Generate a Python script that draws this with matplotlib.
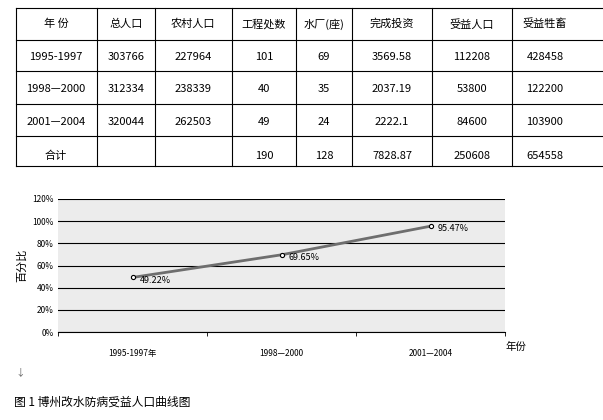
import matplotlib
matplotlib.use("Agg")
import matplotlib.pyplot as plt
from matplotlib.lines import Line2D

plt.rcParams["font.family"] = ["Noto Sans CJK SC", "DejaVu Sans"]

# table data
headers = ["年 份", "总人口", "农村人口", "工程处数", "水厂(座)", "完成投资", "受益人口", "受益牲畜"]
row_1995 = ["1995-1997", "303766", "227964", "101", "69", "3569.58", "112208", "428458"]
row_1998 = ["1998—2000", "312334", "238339", "40", "35", "2037.19", "53800", "122200"]
row_2001 = ["2001—2004", "320044", "262503", "49", "24", "2222.1", "84600", "103900"]
row_total = ["合计", "", "", "190", "128", "7828.87", "250608", "654558"]

# chart data
periods = ["1995-1997年", "1998—2000", "2001—2004"]
ratios = [49.22, 69.65, 95.47]
yticks = [0, 20, 40, 60, 80, 100, 120]

W, H = 603, 420
fig = plt.figure(figsize=(W / 100, H / 100), dpi=100)
bg = fig.add_axes([0, 0, 1, 1])
bg.set_xlim(0, W)
bg.set_ylim(H, 0)
bg.axis("off")

# table grid (pixel coords)
col_x = [16, 97, 155, 232, 296, 352, 432, 512, 603]
text_x = [56, 126, 193, 264, 324, 392, 472, 545]
row_y = [8, 40, 71, 104, 136, 166]
for y in row_y:
    bg.add_line(Line2D([col_x[0], col_x[-1]], [y, y], color="black", lw=0.8))
for x in col_x[:-1]:
    bg.add_line(Line2D([x, x], [row_y[0], row_y[-1]], color="black", lw=0.8))

rows = [headers, row_1995, row_1998, row_2001, row_total]
for r, row in enumerate(rows):
    yc = (row_y[r] + row_y[r + 1]) / 2 + (2 if r in (1, 2, 3) else 0)
    if r == 4:
        yc += 5
    for c, txt in enumerate(row):
        bg.text(text_x[c], yc, txt, ha="center", va="center", fontsize=8)

# line chart
ax = fig.add_axes([58 / W, 1 - 332 / H, (505 - 58) / W, (332 - 199) / H])
ax.set_facecolor("#ececec")
xs = range(len(periods))
ax.plot(xs, ratios, color="#6e6e6e", lw=2, zorder=3)
ax.plot(xs, ratios, "o", ms=3, mfc="white", mec="black", mew=0.8, zorder=4)
for x, v in zip(xs, ratios):
    ax.annotate(f"{v:.2f}%", (x, v), xytext=(5, -2), textcoords="offset points",
                fontsize=6.5, va="center", ha="left")
ax.set_xlim(-0.5, 2.5)
ax.set_ylim(0, 120)
ax.set_yticks(yticks)
ax.set_yticklabels([f"{t}%" for t in yticks], fontsize=6)
ax.yaxis.grid(True, color="black", lw=0.8)
ax.set_axisbelow(True)
ax.set_xticks([0, 1, 2])
ax.set_xticklabels(periods, fontsize=6)
ax.set_xticks([-0.5, 0.5, 1.5, 2.5], minor=True)
ax.tick_params(axis="x", which="major", length=0, pad=12)
ax.tick_params(axis="x", which="minor", length=3)
ax.tick_params(axis="y", length=0, pad=3)
for s in ["top", "right", "left"]:
    ax.spines[s].set_visible(False)
ax.spines["bottom"].set_linewidth(0.8)

bg.text(22, 265, "百分比", rotation=90, ha="center", va="center", fontsize=8)
bg.text(505, 347, "年份", ha="left", va="center", fontsize=7.5)
bg.text(15, 372, "↓", ha="left", va="center", fontsize=7, color="#666666")
bg.text(14, 402, "图 1 博州改水防病受益人口曲线图", ha="left", va="center", fontsize=8.5)

fig.savefig("out.png", dpi=100, facecolor="white")
